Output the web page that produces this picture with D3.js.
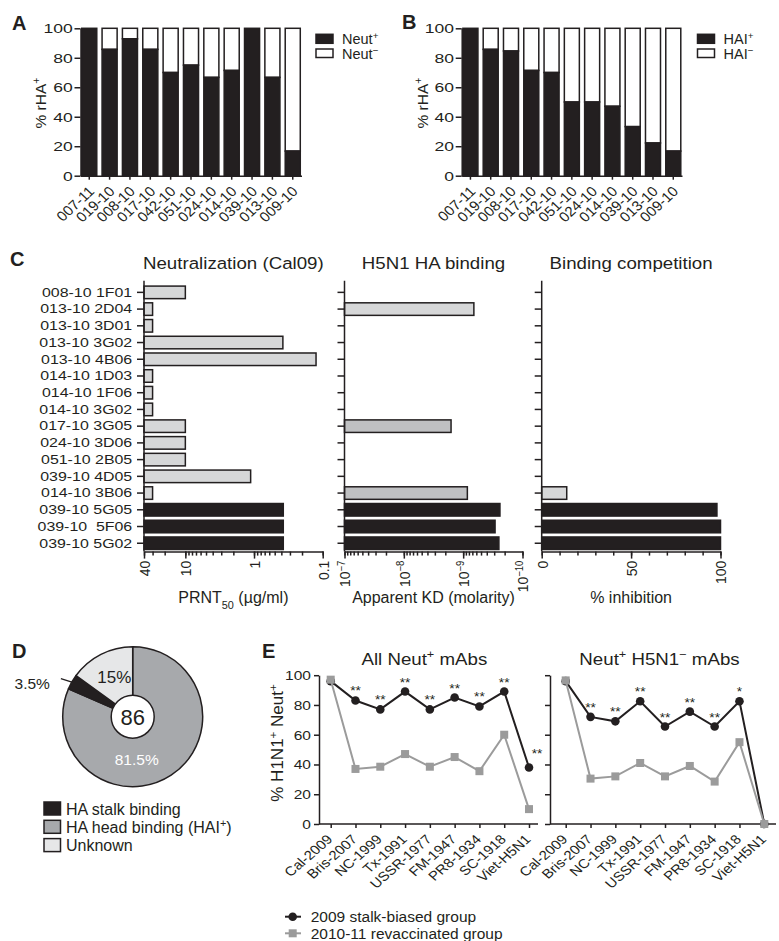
<!DOCTYPE html>
<html>
<head>
<meta charset="utf-8"/>
<title>Neutralizing mAb panels</title>
<script src="https://d3js.org/d3.v7.min.js"></script>
<style>
  body { margin: 0; background: #fff; }
  #fig { font-family: "Liberation Sans", Arial, Helvetica, sans-serif; }
  .pre { white-space: pre; }
</style>
</head>
<body>
<svg id="fig" width="779" height="941"></svg>
<script>
// ---------- data ----------
var donors = ["007-11", "019-10", "008-10", "017-10", "042-10", "051-10", "024-10", "014-10", "039-10", "013-10", "009-10"];
var neutPct = [100, 85.7, 92.9, 85.7, 70, 75, 66.7, 71.4, 100, 66.7, 16.7];
var haiPct = [100, 85.7, 84.6, 71.4, 70, 50, 50, 47.1, 33.3, 22.2, 16.7];
var pctTicks = [0, 20, 40, 60, 80, 100];

var mabs = ["008-10 1F01", "013-10 2D04", "013-10 3D01", "013-10 3G02", "013-10 4B06", "014-10 1D03",
            "014-10 1F06", "014-10 3G02", "017-10 3G05", "024-10 3D06", "051-10 2B05", "039-10 4D05",
            "014-10 3B06", "039-10 5G05", "039-10  5F06", "039-10 5G02"];
var stalkMabs = ["039-10 5G05", "039-10  5F06", "039-10 5G02"];
var prnt50 = [10, 30, 30, 0.38, 0.125, 30, 30, 30, 10, 10, 10, 1.12, 30, 0.375, 0.375, 0.375];   // ug/ml
var kdMolar = [null, 6.6e-10, null, null, null, null, null, null, 1.6e-9, null, null, null, 8.5e-10, 2.4e-10, 2.9e-10, 2.5e-10];
var inhibPct = [null, null, null, null, null, null, null, null, null, null, null, null, 14, 98, 100, 100];
var prntTicks = [40, 10, 1, 0.1];
var kdTicks = [1e-7, 1e-8, 1e-9, 1e-10];
var inhibTicks = [0, 50, 100];

var pieNames = ["HA stalk binding", "HA head binding (HAI^+)", "Unknown"];
var piePct = [3.5, 81.5, 15];
var pieTotal = 86;

var strains = ["Cal-2009", "Bris-2007", "NC-1999", "Tx-1991", "USSR-1977", "FM-1947", "PR8-1934", "SC-1918", "Viet-H5N1"];
var allStalk = [96, 83, 77, 89, 77, 85, 79, 89, 38];
var allRevac = [97, 37, 38.5, 47, 38.5, 45, 35.5, 60, 10];
var allSig = ["", "**", "**", "**", "**", "**", "**", "**", "**"];
var negStalk = [96, 72, 69, 82.5, 65.5, 75.5, 65.5, 82.5, 0];
var negRevac = [96.5, 30.5, 32, 41, 32, 39, 28.5, 55, 0];
var negSig = ["", "**", "**", "**", "**", "**", "**", "*", ""];
var groupNames = ["2009 stalk-biased group", "2010-11 revaccinated group"];

// ---------- styling ----------
var INK = "#231f20", LIGHT = "#d6d7d8", MID = "#bfc0c2", HEAD = "#a7a9ac", UNK = "#e6e7e8", GREY = "#9b9b9b";
var svg = d3.select("#fig");

function rich(t, str) {
    str.split(/(\^\{[^}]*\}|\^.|_\{[^}]*\})/).forEach(function (p) {
        if (!p) return;
        if (p[0] === "^" || p[0] === "_") {
            var s = p[1] === "{" ? p.slice(2, -1) : p.slice(1);
            t.append("tspan").attr("baseline-shift", p[0] === "^" ? "super" : "sub")
                .attr("font-size", "0.68em").text(s);
        } else {
            t.append("tspan").text(p);
        }
    });
    return t;
}

function say(x, y, size, str, o) {
    o = o || {};
    var tf = "translate(" + x + "," + y + ")";
    if (o.sx) tf += " scale(" + o.sx + ",1)";
    if (o.rot) tf += " rotate(" + o.rot + ")";
    var t = svg.append("text").attr("transform", tf).attr("font-size", size)
        .attr("text-anchor", o.anchor || "start").attr("fill", o.fill || INK);
    if (o.bold) t.attr("font-weight", "bold");
    if (o.dy) t.attr("dy", o.dy);
    return rich(t, str);
}

function inkAxis(g, size) {
    g.attr("font-family", null).attr("font-size", size).attr("color", INK);
    g.selectAll("path, line").attr("stroke-width", 1.5);
    return g;
}

// ---------- panels A and B ----------
var yPct = d3.scaleLinear().domain([0, 100]).range([175.7, 28.3]);

function stackPanel(x0, x1, vals, legX, legName) {
    var x = d3.scaleBand().domain(donors).range([x0, x1]).paddingInner(0.26).paddingOuter(0.06);
    var g = svg.append("g");
    var bar = g.selectAll("g.bar").data(donors).enter().append("g").attr("class", "bar");
    bar.append("rect")
        .attr("x", function (d) { return x(d); }).attr("width", x.bandwidth())
        .attr("y", yPct(100)).attr("height", function (d, i) { return yPct(vals[i]) - yPct(100); })
        .attr("fill", "#fff").attr("stroke", INK).attr("stroke-width", 1.5);
    bar.append("rect")
        .attr("x", function (d) { return x(d); }).attr("width", x.bandwidth())
        .attr("y", function (d, i) { return yPct(vals[i]); })
        .attr("height", function (d, i) { return yPct(0) - yPct(vals[i]); })
        .attr("fill", INK).attr("stroke", INK).attr("stroke-width", 1.5);

    var ya = g.append("g").attr("transform", "translate(" + x0 + ",0)")
        .call(d3.axisLeft(yPct).tickValues(pctTicks).tickSize(6).tickSizeOuter(0).tickPadding(0));
    inkAxis(ya, 13.5);
    ya.selectAll("text").attr("transform", "scale(1.3,1)");

    var xa = g.append("g").attr("transform", "translate(0," + yPct(0) + ")")
        .call(d3.axisBottom(x).tickSize(4).tickSizeOuter(0).tickFormat(""));
    inkAxis(xa, 13);
    donors.forEach(function (d) {
        say(x(d) + x.bandwidth() / 2 + 2.3, yPct(0) + 13, 14, d,
            { anchor: "end", sx: 1.08, rot: -45, dy: "0.35em" });
    });

    say(x0 - 39.5, 103, 15.5, "% rHA^+", { rot: -90, anchor: "middle", dy: "0.35em" });

    g.append("rect").attr("x", legX).attr("y", 34.3).attr("width", 17).attr("height", 9)
        .attr("fill", INK).attr("stroke", INK).attr("stroke-width", 1.5);
    g.append("rect").attr("x", legX).attr("y", 49).attr("width", 17).attr("height", 8.5)
        .attr("fill", "#fff").attr("stroke", INK).attr("stroke-width", 1.5);
    say(legX + 26, 43.5, 14.5, legName + "^+");
    say(legX + 26, 58.5, 14.5, legName + "^\u2212");
}

stackPanel(80.5, 301.5, neutPct, 316, "Neut");
stackPanel(461.7, 682, haiPct, 697.5, "HAI");
say(12, 29.5, 20, "A", { bold: true });
say(402, 28.5, 20, "B", { bold: true });

// ---------- panel C ----------
var rowY = d3.scaleBand().domain(mabs).range([284, 551.6]).paddingInner(0.25).paddingOuter(0.125);
var axisYC = 551.6;

function rowPanel(o) {
    var g = svg.append("g");
    var x = o.scale, r = x.range();
    g.selectAll("rect").data(mabs).enter()
        .filter(function (d, i) { return o.vals[i] != null; })
        .append("rect")
        .attr("x", r[0])
        .attr("y", function (d) { return rowY(d); })
        .attr("height", rowY.bandwidth())
        .attr("width", function (d) { return x(o.vals[mabs.indexOf(d)]) - r[0]; })
        .attr("fill", function (d) { return stalkMabs.indexOf(d) >= 0 ? INK : (o.shade[d] || LIGHT); })
        .attr("stroke", INK).attr("stroke-width", 1.5);

    var ya = g.append("g").attr("transform", "translate(" + r[0] + ",0)")
        .call(d3.axisLeft(rowY).tickSize(7).tickSizeOuter(0).tickPadding(3)
            .tickFormat(o.rowLabels ? null : ""));
    inkAxis(ya, 13.5);
    ya.select(".domain").attr("d", "M0,280.7V" + axisYC);
    ya.selectAll("text").classed("pre", true).attr("transform", "scale(1.18,1)");

    var minor = g.append("g").attr("transform", "translate(0," + axisYC + ")")
        .call(d3.axisBottom(x).tickValues(o.minor).tickSize(4).tickSizeOuter(0).tickFormat(""));
    inkAxis(minor, 12);
    var major = g.append("g").attr("transform", "translate(0," + axisYC + ")")
        .call(d3.axisBottom(x).tickValues(o.major).tickSize(7).tickSizeOuter(0));
    inkAxis(major, 14);
    major.select(".domain").remove();
    major.selectAll("text").text("").attr("text-anchor", "end").attr("x", 0).attr("y", 0).attr("dy", "0.35em")
        .attr("transform", "translate(0,9) scale(1.1,1) rotate(-90)")
        .each(function (d) { rich(d3.select(this), o.fmt(d)); });

    say((r[0] + r[1]) / 2, 268.5, 17, o.title, { anchor: "middle", sx: 1.1 });
    say((r[0] + r[1]) / 2, 603, 16, o.axisTitle, { anchor: "middle" });
}

var xPrnt = d3.scaleLog().domain([40, 0.1]).range([144, 322.7]);
rowPanel({
    scale: xPrnt, vals: prnt50, shade: {}, rowLabels: true,
    major: prntTicks, minor: xPrnt.ticks(),
    fmt: function (d) { return String(d); },
    title: "Neutralization (Cal09)", axisTitle: "PRNT_{50} (\u00b5g/ml)"
});

var xKd = d3.scaleLog().domain([1e-7, 1e-10]).range([344.5, 522.5]);
var kdShade = { "017-10 3G05": MID, "014-10 3B06": MID };
rowPanel({
    scale: xKd, vals: kdMolar, shade: kdShade, rowLabels: false,
    major: kdTicks, minor: xKd.ticks(),
    fmt: function (d) { return "10^{\u2212" + Math.round(-Math.log10(d)) + "}"; },
    title: "H5N1 HA binding", axisTitle: "Apparent KD (molarity)"
});

var xInh = d3.scaleLinear().domain([0, 100]).range([541.7, 720.5]);
rowPanel({
    scale: xInh, vals: inhibPct, shade: {}, rowLabels: false,
    major: inhibTicks, minor: xInh.ticks(10),
    fmt: function (d) { return String(d); },
    title: "Binding competition", axisTitle: "% inhibition"
});
say(10, 266, 20, "C", { bold: true });

// ---------- panel D ----------
var cx = 132.7, cy = 716.7, R = 70, r0 = 21.5;
var pieOrder = [1, 0, 2];            // head binding first, clockwise from 12 o'clock
var pieFill = [INK, HEAD, UNK];
var arcs = d3.pie().sort(null).value(function (i) { return piePct[i]; })(pieOrder);
var arc = d3.arc().innerRadius(0).outerRadius(R);
var gD = svg.append("g").attr("transform", "translate(" + cx + "," + cy + ")");
gD.selectAll("path").data(arcs).enter().append("path")
    .attr("d", arc).attr("fill", function (a) { return pieFill[a.data]; })
    .attr("stroke", INK).attr("stroke-width", 1.5).attr("stroke-linejoin", "round");
gD.append("circle").attr("r", r0).attr("fill", "#fff").attr("stroke", INK).attr("stroke-width", 1.5);
say(cx, cy + 1, 22, String(pieTotal), { anchor: "middle", dy: "0.35em" });

function polar(a, rad) { return [cx + rad * Math.sin(a), cy - rad * Math.cos(a)]; }
arcs.forEach(function (a) {
    var mid = (a.startAngle + a.endAngle) / 2, txt = piePct[a.data] + "%";
    if (a.data === 0) {
        var p = polar(mid, R);
        svg.append("line").attr("x1", p[0]).attr("y1", p[1]).attr("x2", p[0] - 11).attr("y2", p[1] - 3.5)
            .attr("stroke", INK).attr("stroke-width", 1.3);
        say(p[0] - 22, p[1] + 6.5, 15.5, txt, { anchor: "end" });
    } else if (a.data === 2) {
        var q = polar(mid, 45);
        say(q[0] + 2, q[1] + 6, 17, txt, { anchor: "middle" });
    } else {
        say(cx + 4, cy + 48, 15.5, txt, { anchor: "middle", fill: "#ffffff" });
    }
});
pieNames.forEach(function (n, i) {
    svg.append("rect").attr("x", 44).attr("y", 802 + i * 18.3).attr("width", 16.5).attr("height", 13)
        .attr("fill", pieFill[i]).attr("stroke", INK).attr("stroke-width", 1.5);
    say(66, 814.5 + i * 18.3, 16, n);
});
say(12, 658, 20, "D", { bold: true });

// ---------- panel E ----------
var yE = d3.scaleLinear().domain([0, 100]).range([824, 675.2]);

function linePanel(x0, x1, axX, axEnd, stalk, revac, sig, showY, title) {
    var x = d3.scalePoint().domain(strains).range([x0, x1]);
    var g = svg.append("g");
    var ya = g.append("g").attr("transform", "translate(" + axX + ",0)")
        .call(d3.axisLeft(yE).tickValues(pctTicks).tickSize(5).tickSizeOuter(0).tickPadding(2)
            .tickFormat(showY ? d3.format("d") : ""));
    inkAxis(ya, 13.5);
    ya.selectAll("text").attr("transform", "scale(1.15,1)");

    var xa = g.append("g").attr("transform", "translate(0," + yE(0) + ")")
        .call(d3.axisBottom(x).tickSize(4).tickSizeOuter(0).tickFormat(""));
    inkAxis(xa, 13);
    xa.select(".domain").attr("d", "M" + axX + ",0H" + axEnd);
    strains.forEach(function (s) {
        say(x(s) - 1, yE(0) + 13, 13, s, { anchor: "end", sx: 1.15, rot: -45, dy: "0.35em" });
    });

    var line = d3.line().x(function (d, i) { return x(strains[i]); }).y(function (d) { return yE(d); });
    g.append("path").datum(stalk).attr("d", line).attr("fill", "none").attr("stroke", INK).attr("stroke-width", 2);
    g.selectAll("circle").data(stalk).enter().append("circle")
        .attr("cx", function (d, i) { return x(strains[i]); }).attr("cy", function (d) { return yE(d); })
        .attr("r", 4.3).attr("fill", INK);
    g.append("path").datum(revac).attr("d", line).attr("fill", "none").attr("stroke", GREY).attr("stroke-width", 2);
    g.selectAll("rect.sq").data(revac).enter().append("rect").attr("class", "sq")
        .attr("x", function (d, i) { return x(strains[i]) - 4; }).attr("y", function (d) { return yE(d) - 4; })
        .attr("width", 8).attr("height", 8).attr("fill", GREY);

    sig.forEach(function (s, i) {
        if (!s) return;
        var last = i === strains.length - 1;
        say(x(strains[i]) + (last ? 8 : 0), yE(stalk[i]) - (last ? 9 : 5), 12.5, s, { anchor: "middle", sx: 1.1 });
    });
    say((x0 + x1) / 2 - 5.5, 665, 17, title, { anchor: "middle", sx: 1.1 });
}

linePanel(330.7, 529, 319, 538, allStalk, allRevac, allSig, true, "All Neut^+ mAbs");
linePanel(565.7, 764.3, 550, 776, negStalk, negRevac, negSig, false, "Neut^+ H5N1^\u2212 mAbs");
say(277, 743, 17, "% H1N1^+ Neut^+", { rot: -90, anchor: "middle", dy: "0.35em" });
say(262, 658, 20, "E", { bold: true });

// legend E
svg.append("line").attr("x1", 285).attr("x2", 301).attr("y1", 916.7).attr("y2", 916.7).attr("stroke", INK).attr("stroke-width", 2);
svg.append("circle").attr("cx", 292.7).attr("cy", 916.7).attr("r", 4.3).attr("fill", INK);
svg.append("line").attr("x1", 285).attr("x2", 301).attr("y1", 933.3).attr("y2", 933.3).attr("stroke", GREY).attr("stroke-width", 2);
svg.append("rect").attr("x", 288.7).attr("y", 929.3).attr("width", 8).attr("height", 8).attr("fill", GREY);
groupNames.forEach(function (n, i) { say(310.7, 922 + i * 16.6, 15.5, n); });
</script>
</body>
</html>
